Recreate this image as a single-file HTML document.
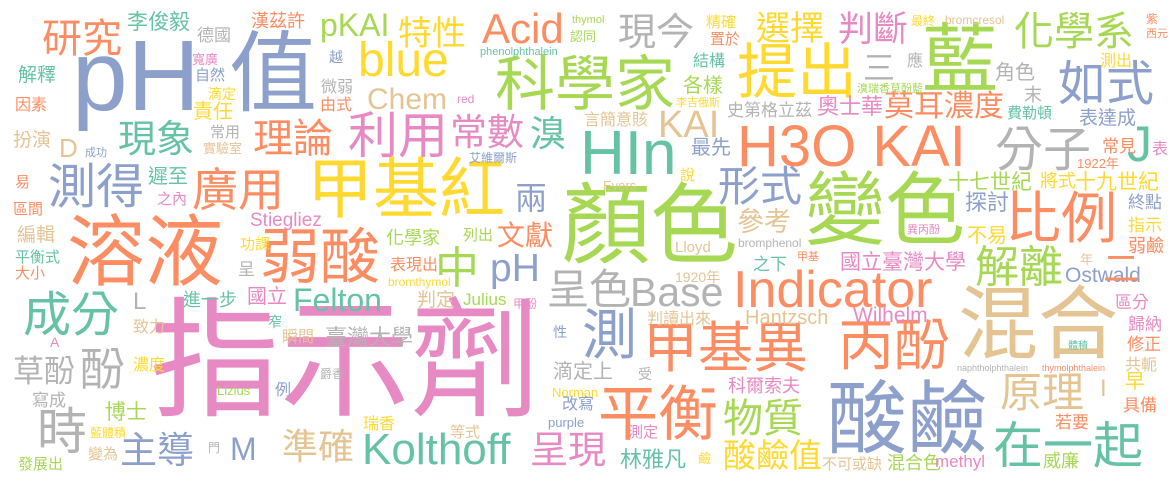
<!DOCTYPE html>
<html><head><meta charset="utf-8">
<style>
html,body{margin:0;padding:0;background:#fff;}
#cloud{position:relative;width:1175px;height:482px;overflow:hidden;background:#fff;font-family:"Liberation Sans","Noto Sans CJK TC",sans-serif;}
#cloud span{position:absolute;white-space:nowrap;line-height:1;}
</style></head>
<body>
<div id="cloud"></div>
<script>
const words=[
"指示劑","顏色","變色","溶液","混合","pH","值","藍","酸鹼","甲基紅",
"科學家","提出","H3O KAI","HIn","甲基異","丙酚","平衡","比例","Indicator","Base",
"呈色","弱酸","廣用","理論","利用","常數","溴","現象","測得","成分",
"酚","草酚","時","主導","M","準確","Kolthoff","呈現","物質","酸鹼值",
"林雅凡","在一起","原理","分子","如式","化學系","選擇","判斷","現今","三",
"Acid","blue","特性","pKAI","漢茲許","李俊毅","研究","德國","Chem","KAI",
"中","pH","兩","形式","文獻","測","解離","國立臺灣大學","Ostwald","Felton",
"臺灣大學","Stiegliez","化學家","表現出","Hantzsch","Wilhelm","參考","奧士華","莫耳濃度","十七世紀",
"將式","十九世紀","J","L","D","博士","解釋","因素","扮演","易",
"區間","編輯","平衡式","大小","寫成","發展出","變為","遲至","之內","自然",
"責任","滴定","寬廣","常用","實驗室","成功","越","微弱","由式","red",
"phenolphthalein","thymol","認同","精確","置於","最終","bromcresol","紫","西元","應",
"結構","各樣","角色","末","測出","溴瑞香草酚藍","李吉俄斯","史第格立茲","言簡意賅","費勒頓",
"表達成","最先","常見","表","1922年","說","Evers","艾維爾斯","探討","終點",
"指示","不易","異丙酚","弱鹼","甲基","年","二","區分","歸納","修正",
"共軛","早","具備","體積","naphtholphthalein","thymolphthalein","I","若要","不可或缺","混合色",
"methyl","威廉","列出","Lloyd","bromphenol","bromthymol","1920年","之下","判定","Julius",
"甲酚","判讀出來","性","滴定上","受","Norman","改寫","purple","科爾索夫","等式",
"測定","鹼","功課","呈","進一步","國立","致力","窄","瞬間","A",
"濃度","爵香","Lizius","例","藍體積","門","瑞香"];
const xs=[
150,562,805,67,958,72,229,922,827,307,
495,737,737,580,643,838,598,1005,733,630,
547,260,192,253,348,450,530,118,48,23,
80,13,37,120,230,282,362,530,723,723,
620,993,1000,995,1058,1014,756,838,618,863,
482,358,398,320,251,127,42,197,367,658,
435,490,515,718,497,582,975,840,1065,293,
325,250,386,390,745,853,737,817,884,948,
1040,1075,1127,133,59,105,18,15,13,15,
13,17,15,15,32,18,88,148,157,195,
193,208,192,210,203,85,329,321,320,457,
480,572,570,706,710,911,945,1146,1146,907,
693,683,995,1024,1100,857,676,727,584,1007,
1079,691,1102,1152,1077,680,603,469,965,1128,
1128,967,907,1128,797,1080,1103,1115,1128,1127,
1125,1125,1123,1068,957,1042,1100,1055,822,887,
935,1043,463,675,738,388,675,753,417,463,
513,647,553,553,638,552,562,548,728,450,
628,698,240,238,183,247,133,268,282,50,
133,320,217,275,90,208,363];
const ys=[
300,185,173,215,287,37,33,25,382,158,
57,45,125,130,323,320,387,193,270,277,
270,230,168,120,112,115,117,122,165,293,
348,357,408,433,437,430,433,433,400,440,
450,422,373,128,62,13,13,13,15,53,
13,43,18,13,13,13,20,28,88,110,
248,253,183,167,223,310,247,253,267,288,
328,213,230,258,310,307,210,97,93,173,
173,173,125,293,138,403,67,98,132,175,
202,227,250,266,393,457,447,168,192,68,
103,87,53,125,142,148,50,80,98,94,
48,16,30,15,32,15,15,13,29,54,
54,77,64,87,54,84,98,103,113,106,
110,139,139,142,157,168,180,152,193,195,
218,227,225,238,252,253,252,295,317,337,
358,373,398,342,365,365,380,415,457,455,
455,453,228,242,238,277,270,257,292,293,
298,312,325,363,367,387,397,417,378,425,
425,452,237,262,292,288,320,315,330,337,
358,368,385,383,427,442,417];
const sizes=[
130,88,80,78,80,100,88,76,80,66,
60,60,58,62,55,56,60,56,52,41,
42,60,46,40,50,37,36,38,48,48,
45,31,50,37,32,36,44,38,40,33,
22,50,42,48,48,40,34,35,38,32,
42,48,34,32,18,21,40,17,30,38,
44,39,32,42,28,55,44,21,21,32,
22,19,18,16,20,21,27,22,30,21,
18,21,50,24,26,21,19,16,19,15,
15,19,15,15,17,15,15,20,15,15,
20,14,13,15,13,11,14,16,16,12,
11,11,13,15,15,12,12,12,11,16,
16,20,20,18,16,11,11,17,16,15,
19,20,17,16,13,15,13,12,22,17,
17,20,11,18,11,13,36,17,17,17,
16,20,17,10,9,9,24,17,15,18,
17,18,15,15,12,12,14,17,19,17,
12,16,14,20,14,13,16,13,18,15,
15,13,15,17,18,20,16,14,16,14,
16,12,13,16,12,12,16];
const cols=[
"pink","green","green","orange","tan","blue","blue","green","blue","yellow",
"green","yellow","orange","teal","orange","orange","orange","orange","orange","gray",
"gray","orange","orange","orange","pink","pink","teal","teal","blue","teal",
"gray","gray","gray","blue","blue","tan","teal","pink","green","yellow",
"teal","teal","tan","gray","blue","green","yellow","pink","gray","gray",
"orange","yellow","yellow","green","orange","teal","orange","gray","tan","tan",
"green","blue","blue","blue","orange","blue","green","pink","blue","teal",
"gray","pink","green","orange","tan","pink","tan","pink","orange","green",
"yellow","yellow","teal","gray","tan","green","teal","orange","tan","orange",
"orange","tan","teal","orange","gray","green","tan","teal","pink","blue",
"yellow","yellow","pink","gray","tan","blue","blue","gray","orange","pink",
"teal","green","green","yellow","orange","yellow","tan","orange","orange","gray",
"teal","green","gray","gray","yellow","green","yellow","gray","tan","teal",
"blue","blue","orange","pink","orange","yellow","tan","blue","blue","blue",
"yellow","yellow","pink","orange","orange","tan","orange","pink","pink","orange",
"tan","yellow","orange","teal","gray","orange","tan","orange","tan","green",
"pink","green","green","tan","gray","yellow","tan","teal","tan","green",
"pink","tan","blue","gray","gray","yellow","blue","blue","pink","tan",
"pink","yellow","yellow","gray","teal","pink","tan","teal","tan","pink",
"yellow","gray","green","blue","yellow","gray","yellow"];
const palette={teal:"#66c2a5",orange:"#fc8d62",blue:"#8da0cb",pink:"#e78ac3",green:"#a6d854",yellow:"#ffd92f",tan:"#e5c494",gray:"#b3b3b3"};
const cloud=document.getElementById('cloud');
const n=Math.min(words.length,xs.length,ys.length,sizes.length,cols.length);
for(let i=0;i<n;i++){
  const s=document.createElement('span');
  
  
  s.textContent=words[i];
  const fs=sizes[i];
  const latin=/^[\x00-\x7f]+$/.test(words[i]);
  s.style.fontSize=fs+'px';
  s.style.left=xs[i]+'px';
  s.style.top=(ys[i]-fs*(latin?0.115:0.03))+'px';
  s.style.color=palette[cols[i]]||"#b3b3b3";
  cloud.appendChild(s);
}
</script>
</body></html>
